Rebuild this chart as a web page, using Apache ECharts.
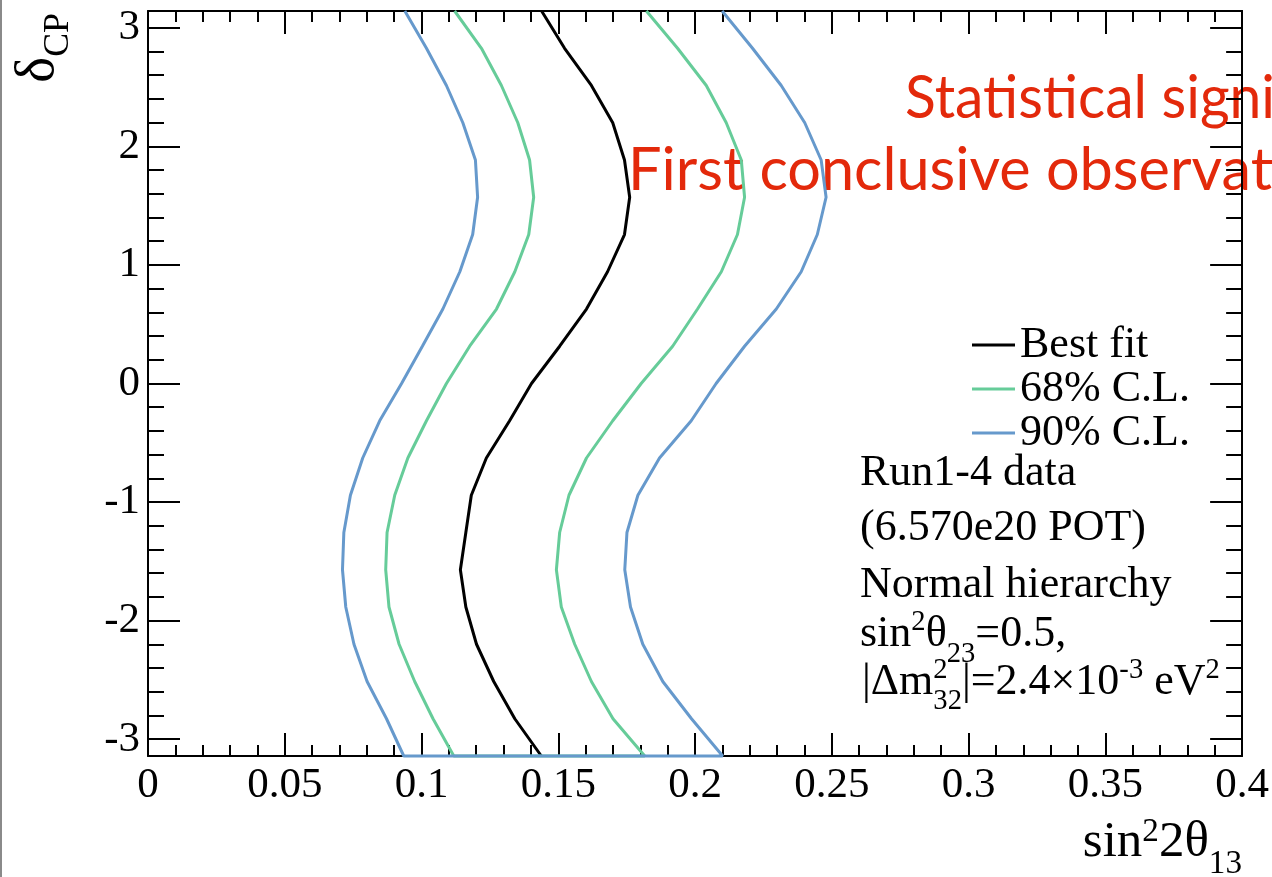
<!DOCTYPE html>
<html>
<head>
<meta charset="utf-8">
<script src="https://cdn.jsdelivr.net/npm/echarts@6/dist/echarts.min.js"></script>
<style>
  html, body { margin: 0; padding: 0; background: #fff; }
  #main { width: 1272px; height: 877px; }
</style>
</head>
<body>
<div id="main"></div>
<script>
// delta_CP grid points, from +pi down to -pi
const deltaCP = [3.1416, 2.8274, 2.5133, 2.1991, 1.885, 1.5708, 1.2566, 0.9425, 0.6283, 0.3142, 0,
  -0.3142, -0.6283, -0.9425, -1.2566, -1.5708, -1.885, -2.1991, -2.5133, -2.8274, -3.1416];

// sin^2(2 theta13) at each delta_CP
const bestFit   = [0.1439, 0.1523, 0.1621, 0.1699, 0.1742, 0.1761, 0.1742, 0.1680, 0.1603, 0.1505, 0.1402,
  0.1322, 0.1237, 0.1182, 0.1162, 0.1142, 0.1162, 0.1201, 0.1264, 0.1341, 0.1438];
const cl68Left  = [0.1121, 0.1219, 0.1292, 0.1352, 0.1395, 0.1410, 0.1392, 0.1341, 0.1274, 0.1176, 0.1091,
  0.1018, 0.0950, 0.0902, 0.0874, 0.0869, 0.0881, 0.0918, 0.0975, 0.1042, 0.1118];
const cl68Right = [0.1822, 0.1936, 0.2041, 0.2114, 0.2169, 0.2181, 0.2155, 0.2096, 0.2009, 0.1918, 0.1803,
  0.1699, 0.1603, 0.1539, 0.1505, 0.1493, 0.1511, 0.1560, 0.1621, 0.1700, 0.1816];
const cl90Left  = [0.0939, 0.1018, 0.1091, 0.1151, 0.1197, 0.1205, 0.1187, 0.1140, 0.1078, 0.1003, 0.0927,
  0.0847, 0.0785, 0.0740, 0.0716, 0.0711, 0.0723, 0.0753, 0.0801, 0.0872, 0.0935];
const cl90Right = [0.2099, 0.2210, 0.2315, 0.2401, 0.2461, 0.2479, 0.2447, 0.2388, 0.2297, 0.2181, 0.2077,
  0.1986, 0.1870, 0.1791, 0.1751, 0.1743, 0.1764, 0.1809, 0.1882, 0.1987, 0.2101];

const seriesNames = ['Best fit', '68% C.L.', '90% C.L.'];
const seriesColors = ['#000000', '#66cc99', '#6699cc'];

const serif = 'Liberation Serif';
const fs = 44;

function pairs(xs) { return xs.map((x, i) => [x, deltaCP[i]]); }
// closed at the bottom edge: left side going down, right side going up
function contour(left, right) { return pairs(left).concat(pairs(right).reverse()); }

// small helper for text with super/subscripts (ROOT style latex)
const meas = document.createElement('canvas').getContext('2d');
function tw(s, size) { meas.font = size + 'px "' + serif + '"'; return meas.measureText(s).width; }
function piece(s, x, base, size) {
  return { type: 'text', x: x, y: base - 0.3375 * size,
    style: { text: s, fontFamily: serif, fontSize: size, fill: '#000',
      align: 'left', verticalAlign: 'middle', textAlign: 'left', textVerticalAlign: 'middle' } };
}
function latex(parts, x, base, size, up, down) {
  const small = size * 0.65;
  const els = [];
  let cx = x;
  parts.forEach(p => {
    const t = p[0], k = p[1] || 'n';
    if (k === 'n') { els.push(piece(t, cx, base, size)); cx += tw(t, size); }
    else if (k === 'sup') { els.push(piece(t, cx, base - up, small)); cx += tw(t, small); }
    else if (k === 'sub') { els.push(piece(t, cx, base + down, small)); cx += tw(t, small); }
    else if (k === 'stack') {
      els.push(piece(t[0], cx, base - up, small));
      els.push(piece(t[1], cx, base + down, small));
      cx += Math.max(tw(t[0], small), tw(t[1], small));
    }
  });
  return { els: els, width: cx - x };
}

const infoX = 860;
const info = [
  latex([['Run1-4 data']], infoX, 488, fs, 17, 15),
  latex([['(6.570e20 POT)']], infoX, 543, fs, 17, 15),
  latex([['Normal hierarchy']], infoX, 600, fs, 17, 15),
  latex([['sin'], ['2', 'sup'], ['θ'], ['23', 'sub'], ['=0.5,']], infoX, 649, fs, 17, 15),
  latex([['|Δm'], [['2', '32'], 'stack'], ['|=2.4×10'], ['-3', 'sup'], [' eV'], ['2', 'sup']], infoX + 2, 697, fs, 17, 14)
];

// x title, right aligned at the axis end
const xt = latex([['sin'], ['2', 'sup'], ['2θ'], ['13', 'sub']], 0, 0, 51, 17, 15);
xt.els.forEach(e => { e.x += 1242 - xt.width; e.y += 860; });

// y title, rotated, right aligned to the top
const yt = latex([['δ'], ['CP', 'sub']], 0, 0, 55, 14, 14);

const chart = echarts.init(document.getElementById('main'));

const tickStyle = { color: '#000', width: 2 };
const labelStyle = { fontFamily: serif, fontSize: 43, color: '#000' };

function xAxisDef(pos, labels) {
  return { type: 'value', min: 0, max: 0.4, interval: 0.05, position: pos,
    axisLine: { onZero: false, lineStyle: tickStyle },
    axisTick: { inside: true, length: 23, lineStyle: tickStyle },
    minorTick: { show: true, splitNumber: 5, length: 11, lineStyle: tickStyle },
    splitLine: { show: false },
    axisLabel: labels ? Object.assign({ margin: 8 }, labelStyle) : { show: false } };
}
function yAxisDef(pos, labels) {
  return { type: 'value', min: -3.1416, max: 3.1416, minInterval: 1, maxInterval: 1, position: pos,
    axisLine: { onZero: false, lineStyle: tickStyle },
    axisTick: { inside: true, length: 32, lineStyle: tickStyle },
    minorTick: { show: true, splitNumber: 5, length: 16, lineStyle: tickStyle },
    splitLine: { show: false },
    axisLabel: labels ? Object.assign({ margin: 8, showMinLabel: false, showMaxLabel: false }, labelStyle) : { show: false } };
}

chart.setOption({
  animation: false,
  backgroundColor: '#fff',
  grid: { left: 148, right: 29, top: 11, bottom: 121 },
  legend: {
    orient: 'vertical', left: 972, top: 323, padding: 0, itemGap: 0,
    itemWidth: 43, itemHeight: 3, icon: 'rect',
    textStyle: { fontFamily: serif, fontSize: fs, color: '#000', lineHeight: 38 },
    data: seriesNames
  },
  xAxis: [xAxisDef('bottom', true), xAxisDef('top', false)],
  yAxis: [yAxisDef('left', true), yAxisDef('right', false)],
  series: [
    { name: seriesNames[0], type: 'line', data: pairs(bestFit), color: seriesColors[0],
      showSymbol: false, clip: false, lineStyle: { width: 3, color: seriesColors[0] } },
    { name: seriesNames[1], type: 'line', data: contour(cl68Left, cl68Right), color: seriesColors[1],
      showSymbol: false, clip: false, lineStyle: { width: 3, color: seriesColors[1] } },
    { name: seriesNames[2], type: 'line', data: contour(cl90Left, cl90Right), color: seriesColors[2],
      showSymbol: false, clip: false, lineStyle: { width: 3, color: seriesColors[2] } }
  ],
  graphic: [
    { type: 'rect', left: 0, top: 0, shape: { width: 2, height: 877 }, style: { fill: '#8a8a8a' } },
    { type: 'text', x: 905, y: 99, scaleX: 0.95,
      style: { text: 'Statistical significance', fontFamily: 'Lato', fontSize: 60, fill: '#e3290b',
        align: 'left', verticalAlign: 'middle', textAlign: 'left', textVerticalAlign: 'middle' } },
    { type: 'text', x: 628, y: 171, scaleX: 0.99,
      style: { text: 'First conclusive observation', fontFamily: 'Lato', fontSize: 60, fill: '#e3290b',
        align: 'left', verticalAlign: 'middle', textAlign: 'left', textVerticalAlign: 'middle' } },
    { type: 'group', x: 57, y: 13 + yt.width, rotation: Math.PI / 2, children: yt.els }
  ].concat(xt.els).concat([].concat.apply([], info.map(r => r.els)))
});
</script>
</body>
</html>
